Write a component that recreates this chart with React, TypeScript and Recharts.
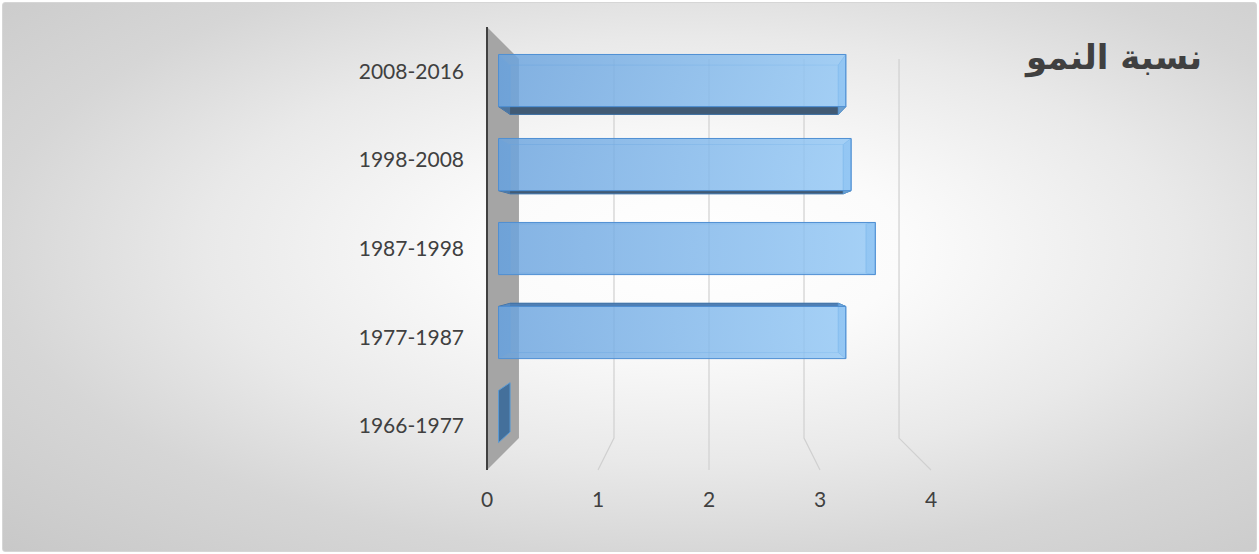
import { BarChart, Bar, XAxis, YAxis, CartesianGrid } from "recharts";

const periods = ["1966-1977", "1977-1987", "1987-1998", "1998-2008", "2008-2016"];
const growth = [0, 3.3, 3.58, 3.35, 3.3];
const xTicks = [0, 1, 2, 3, 4];
const title = "نسبة النمو";

const data = periods.map((period, i) => ({ period, value: growth[i] }));

// chart geometry
const W = 1259;
const H = 554;
const MARGIN = { top: 27, right: 328, bottom: 0, left: 0 };
const Y_AXIS_W = 487;
const X_AXIS_H = 84;
const PLOT_L = MARGIN.left + Y_AXIS_W;
const PLOT_R = W - MARGIN.right;
const PLOT_T = MARGIN.top;
const PLOT_B = H - MARGIN.bottom - X_AXIS_H;

// fake 3d: vanishing point + depth factors
const VP = { x: (PLOT_L + PLOT_R) / 2, y: (PLOT_T + PLOT_B) / 2 };
const F_FRONT = 0.948;
const F_BACK = 0.896;
const F_WALL = 0.856;

const proj = (x: number, y: number, f: number) => [
  VP.x + (x - VP.x) * f,
  VP.y + (y - VP.y) * f,
];
const pts = (a: number[][]) => a.map((p) => p.join(",")).join(" ");

function Bar3D(props: any) {
  const { x, y, width, height, index } = props;
  const x2 = x + width;
  const y2 = y + height;
  const c = (f: number) => [proj(x, y, f), proj(x2, y, f), proj(x2, y2, f), proj(x, y2, f)];
  const fr = c(F_FRONT);
  const bk = c(F_BACK);
  const top = [fr[0], fr[1], bk[1], bk[0]];
  const bottom = [fr[3], fr[2], bk[2], bk[3]];
  const endR = [fr[1], fr[2], bk[2], bk[1]];
  const endL = [fr[0], fr[3], bk[3], bk[0]];

  if (width < 1) {
    // zero value: only the end cap shows
    return (
      <polygon points={pts(endL)} fill="#44709b" stroke="#5b9bd5" strokeWidth={1} />
    );
  }

  return (
    <g key={`b3d-${index}`}>
      <polygon points={pts(bk)} fill="none" stroke="#5b9bd5" strokeOpacity={0.5} />
      {y2 < VP.y && <polygon points={pts(bottom)} fill="#415a74" stroke="#3d6fa3" />}
      {y > VP.y && <polygon points={pts(top)} fill="#4f7fb5" stroke="#3d6fa3" />}
      <polygon points={pts(endL)} fill="#5f97d3" fillOpacity={0.45} />
      <polygon points={pts(endR)} fill="#7fb6ea" fillOpacity={0.75} stroke="#5b9bd5" />
      <polygon
        points={pts(fr)}
        fill="url(#barFront)"
        fillOpacity={0.82}
        stroke="#4f8fd3"
        strokeWidth={1}
      />
    </g>
  );
}

function GridLine3D(props: any) {
  const { x1, index } = props;
  if (Math.abs(x1 - PLOT_L) < 1) {
    const wall = [
      [PLOT_L, PLOT_T],
      proj(PLOT_L, PLOT_T, F_WALL),
      proj(PLOT_L, PLOT_B, F_WALL),
      [PLOT_L, PLOT_B],
    ];
    return (
      <g key={`wall-${index}`}>
        <polygon points={pts(wall)} fill="#a5a5a5" />
        <line x1={PLOT_L} y1={PLOT_T} x2={PLOT_L} y2={PLOT_B} stroke="#404040" strokeWidth={2} />
      </g>
    );
  }
  const a = proj(x1, PLOT_T, F_WALL);
  const b = proj(x1, PLOT_B, F_WALL);
  return (
    <polyline
      key={`grid-${index}`}
      points={pts([a, b, [x1, PLOT_B]])}
      fill="none"
      stroke="#d0d0d0"
      strokeWidth={1.2}
    />
  );
}

const tickStyle = { fontFamily: "Lato", fontSize: 21, fill: "#404040" };

export default function App() {
  return (
    <div
      style={{
        position: "absolute",
        left: 0,
        top: 0,
        width: W,
        height: H,
        background: "#fff",
      }}
    >
      <div
        style={{
          position: "absolute",
          left: 2,
          top: 2,
          right: 2,
          bottom: 2,
          border: "1px solid #d6d6d6",
          borderRadius: 3,
          background:
            "radial-gradient(ellipse at 55% 45%, #ffffff 0%, #fbfbfb 22%, #e9e9e9 50%, #d6d6d6 72%, #c8c8c8 100%)",
        }}
      />
      <div
        style={{
          position: "absolute",
          right: 57,
          top: 37,
          direction: "rtl",
          fontFamily: "DejaVu Sans",
          fontWeight: "bold",
          fontSize: 34,
          color: "#404040",
        }}
      >
        {title}
      </div>
      <div style={{ position: "absolute", left: 0, top: 0 }}>
        <BarChart
          width={W}
          height={H}
          data={data}
          layout="vertical"
          margin={MARGIN}
          barCategoryGap="19%"
        >
          <defs>
            <linearGradient id="barFront" x1="0" y1="0" x2="1" y2="0">
              <stop offset="0%" stopColor="#6aa3de" />
              <stop offset="100%" stopColor="#92c7f5" />
            </linearGradient>
          </defs>
          <CartesianGrid horizontal={false} vertical={GridLine3D} stroke="#d0d0d0" />
          <XAxis
            type="number"
            domain={[0, 4]}
            ticks={xTicks}
            height={X_AXIS_H}
            axisLine={false}
            tickLine={false}
            tickSize={0}
            tickMargin={22}
            tick={tickStyle}
          />
          <YAxis
            type="category"
            dataKey="period"
            reversed
            width={Y_AXIS_W}
            axisLine={false}
            tickLine={false}
            tickSize={0}
            tickMargin={23}
            tick={tickStyle}
          />
          <Bar dataKey="value" isAnimationActive={false} shape={Bar3D} />
        </BarChart>
      </div>
    </div>
  );
}
